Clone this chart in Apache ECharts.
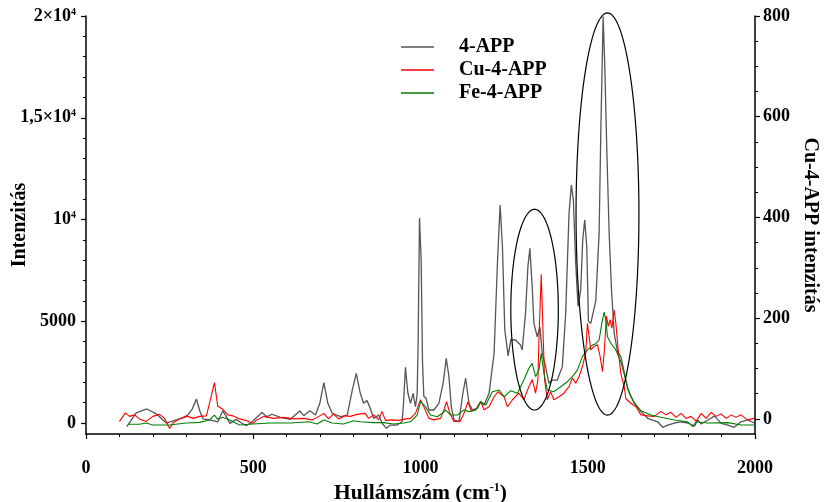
<!DOCTYPE html>
<html><head><meta charset="utf-8">
<script src="https://cdn.jsdelivr.net/npm/echarts@6/dist/echarts.min.js"></script>
<style>html,body{margin:0;padding:0;background:#fff}#c{width:827px;height:502px}</style>
</head><body><div id="c"></div>
<script>
// ---- data ----
const seriesNames = ['4-APP', 'Cu-4-APP', 'Fe-4-APP'];

const app4X = [122,150,182,210,240,270,300,318,330,340,350,370,394,409,420,430,449,465,479,495,526,541,556,581,611,639,651,669,686,699,711,723,736,761,781,796,808,820,830,840,848,860,875,885,898,910,930,945,949,955,962,970,978,985,990,993,997,1002,1006,1010,1017,1025,1040,1055,1068,1077,1085,1092,1100,1115,1125,1135,1145,1155,1170,1180,1190,1205,1220,1230,1238,1245,1252,1262,1270,1284,1299,1304,1314,1321,1327,1334,1339,1349,1357,1364,1374,1384,1394,1409,1424,1434,1444,1451,1457,1464,1471,1479,1485,1491,1497,1502,1509,1524,1534,1539,1546,1551,1557,1564,1571,1579,1589,1599,1609,1619,1639,1659,1679,1709,1724,1739,1759,1779,1799,1819,1829,1839,1859,1879,1899,1919,1938,1958,1978,1998];
const app4Y = [-180,500,690,450,0,150,300,700,1180,600,200,150,60,600,300,-20,180,0,-130,40,520,310,430,280,180,590,360,600,390,970,1980,970,480,310,390,1620,2440,1460,970,1100,800,230,390,0,-260,-100,-100,60,900,2740,1500,970,1460,800,1400,4000,10070,8000,3000,1300,1210,640,640,970,2000,3180,2280,800,150,60,1290,2200,970,640,720,1050,880,1460,3430,7850,10710,8660,4570,3300,4100,4080,3830,3590,5390,7680,8580,6700,4900,4240,4730,3430,2770,1950,2110,2110,2770,5390,10300,11700,10960,7850,5730,6540,9000,9980,8660,5000,4900,6000,9330,14250,19970,17500,13400,9320,6540,4400,3500,3260,2500,1700,970,560,230,60,-210,-100,0,60,0,-150,150,-50,150,340,-20,-100,-210,60,150,0];

const cuX = [100,118,130,145,160,180,200,220,235,250,262,280,300,320,340,360,374,384,394,409,424,439,459,479,499,511,531,561,591,621,651,676,691,711,725,740,755,775,790,805,820,835,845,860,875,885,895,915,935,955,970,985,1000,1010,1025,1040,1060,1070,1078,1088,1100,1118,1130,1142,1152,1165,1180,1190,1205,1220,1232,1242,1250,1260,1275,1294,1309,1324,1334,1344,1351,1355,1361,1366,1371,1379,1389,1399,1414,1429,1444,1454,1464,1474,1484,1494,1499,1504,1509,1519,1529,1537,1544,1549,1556,1561,1567,1572,1579,1584,1591,1599,1609,1614,1629,1644,1659,1679,1699,1719,1734,1749,1764,1779,1794,1809,1824,1839,1854,1869,1884,1899,1914,1929,1943,1958,1978,1998];
const cuY = [-5,12,5,8,0,-5,5,9,1,-19,-7,0,6,1,5,6,44,72,25,19,8,6,0,-3,-9,-2,5,1,3,0,1,-2,3,11,0,10,0,6,5,8,10,11,1,8,-2,15,-3,-2,-3,0,1,11,38,24,1,-2,1,18,34,11,-5,-5,11,34,15,18,34,18,24,44,54,48,44,24,38,51,38,64,78,51,78,177,287,177,78,38,54,38,44,51,64,81,71,84,104,131,190,164,137,144,147,124,94,131,204,184,197,180,216,190,137,90,64,40,31,24,8,6,5,15,8,13,3,11,1,5,-5,11,1,13,5,10,1,8,3,8,-2,1];

const feX = [125,160,180,200,250,300,340,369,384,394,409,429,459,499,551,611,666,691,711,736,770,800,820,860,890,920,950,970,990,1000,1015,1030,1050,1065,1075,1090,1110,1130,1145,1165,1180,1195,1215,1235,1250,1270,1290,1309,1324,1334,1344,1354,1361,1369,1379,1399,1419,1439,1454,1469,1484,1499,1514,1524,1534,1542,1549,1554,1559,1569,1584,1599,1611,1624,1639,1659,1689,1719,1759,1799,1814,1824,1859,1919,1958,1998];
const feY = [-60,-60,0,-100,-100,0,30,150,390,180,280,150,-100,-50,0,0,60,-50,150,0,-50,110,60,20,20,-50,0,60,390,1050,800,390,310,480,640,390,390,640,560,640,1050,880,1540,1620,1290,1590,1460,2110,2690,2930,2280,2600,3430,2440,1620,1540,1780,2030,2280,2600,3260,3590,3830,3900,4080,4900,5450,5060,4240,3920,3590,3000,2280,1460,1000,600,390,280,150,60,-180,60,0,20,-100,-100];

// annotation ellipses: [centre x, centre y (left axis), half-width x, half-height y]
const ellipses = [[1341, 5570, 71, 4930], [1559, 10270, 94, 9880]];

// axis ticks
const xMajor = [0, 500, 1000, 1500, 2000];
const leftTickValues = [0, 5000, 10000, 15000, 20000];
const leftTickLabels = ['0', '5000', '{b|10}{s|4}', '{b|1,5×10}{s|4}', '{b|2×10}{s|4}'];
const leftMinor = [1000,2000,3000,4000,6000,7000,8000,9000,11000,12000,13000,14000,16000,17000,18000,19000];
const rightTickValues = [0, 200, 400, 600, 800];
const rightMinor = [50,100,150,250,300,350,450,500,550,650,700,750];

// ---- chart ----
const FONT = 'Liberation Serif';
const pairs = (xs, ys) => xs.map((x, i) => [x, ys[i]]);
const chart = echarts.init(document.getElementById('c'));
const axisLineStyle = { color: '#000', width: 1.5 };
const labelStyle = { fontFamily: FONT, fontWeight: 'bold', fontSize: 18, color: '#000' };
const nameStyle = { fontFamily: FONT, fontWeight: 'bold', fontSize: 20, color: '#000' };

chart.setOption({
  animation: false,
  backgroundColor: '#fff',
  grid: { left: 86, right: 72, top: 16, bottom: 68, containLabel: false, outerBoundsMode: 'none' },
  legend: {
    orient: 'vertical', left: 401, top: 37, padding: 0, itemWidth: 33, itemHeight: 1.6, itemGap: 3,
    icon: 'rect',
    data: seriesNames,
    textStyle: { fontFamily: FONT, fontWeight: 'bold', fontSize: 20, color: '#000', padding: [0, 0, 0, 20] }
  },
  xAxis: [{
    type: 'value', min: 0, max: 2000, interval: 500,
    name: '{a|Hullámszám (cm}{s|-1}{a|)}', nameLocation: 'middle', nameGap: 48, nameMoveOverlap: false,
    nameTextStyle: { rich: {
      a: { fontFamily: FONT, fontWeight: 'bold', fontSize: 21.5, color: '#000' },
      s: { fontFamily: FONT, fontWeight: 'bold', fontSize: 12, color: '#000', verticalAlign: 'top' } } },
    axisLine: { onZero: false, lineStyle: axisLineStyle },
    axisTick: { show: true, length: 5, lineStyle: { color: '#000', width: 1.2 } },
    minorTick: { show: true, splitNumber: 5, length: 3, lineStyle: { color: '#000', width: 1 } },
    splitLine: { show: false }, minorSplitLine: { show: false },
    axisLabel: Object.assign({ margin: 25, customValues: xMajor, formatter: v => String(v) }, labelStyle)
  }],
  yAxis: [{
    type: 'value', min: -540, max: 20000, position: 'left',
    name: 'Intenzitás', nameLocation: 'middle', nameGap: 56, nameRotate: 90, nameMoveOverlap: false,
    nameTextStyle: nameStyle,
    axisLine: { show: true, onZero: false, lineStyle: axisLineStyle },
    axisTick: { show: true, length: 5, customValues: leftTickValues, lineStyle: { color: '#000', width: 1.2 } },
    splitLine: { show: false },
    axisLabel: Object.assign({
      margin: 10, customValues: leftTickValues,
      formatter: v => leftTickLabels[leftTickValues.indexOf(v)],
      rich: {
        b: { fontFamily: FONT, fontWeight: 'bold', fontSize: 18, color: '#000' },
        s: { fontFamily: FONT, fontWeight: 'bold', fontSize: 10, color: '#000', verticalAlign: 'top' }
      }
    }, labelStyle)
  }, {
    type: 'value', min: -30, max: 800, position: 'right',
    name: 'Cu-4-APP intenzitás', nameLocation: 'middle', nameGap: 45, nameRotate: -90, nameMoveOverlap: false,
    nameTextStyle: nameStyle,
    axisLine: { show: true, onZero: false, lineStyle: axisLineStyle },
    axisTick: { show: true, length: 5, customValues: rightTickValues, lineStyle: { color: '#000', width: 1.2 } },
    splitLine: { show: false },
    axisLabel: Object.assign({ margin: 8, customValues: rightTickValues }, labelStyle)
  }, {
    type: 'value', min: -540, max: 20000, position: 'left',
    axisLine: { show: false }, axisLabel: { show: false }, splitLine: { show: false },
    axisTick: { show: true, length: 3, customValues: leftMinor, lineStyle: { color: '#000', width: 1 } }
  }, {
    type: 'value', min: -30, max: 800, position: 'right',
    axisLine: { show: false }, axisLabel: { show: false }, splitLine: { show: false },
    axisTick: { show: true, length: 3, customValues: rightMinor, lineStyle: { color: '#000', width: 1 } }
  }],
  series: [{
    name: seriesNames[0], type: 'line', yAxisIndex: 0, symbol: 'none', z: 3,
    lineStyle: { color: '#555555', width: 1.3 }, itemStyle: { color: '#555555' },
    data: pairs(app4X, app4Y)
  }, {
    name: seriesNames[1], type: 'line', yAxisIndex: 1, symbol: 'none', z: 4,
    lineStyle: { color: '#ff0000', width: 1.1 }, itemStyle: { color: '#ff0000' },
    data: pairs(cuX, cuY)
  }, {
    name: seriesNames[2], type: 'line', yAxisIndex: 0, symbol: 'none', z: 5,
    lineStyle: { color: '#008000', width: 1.1 }, itemStyle: { color: '#008000' },
    data: pairs(feX, feY)
  }, {
    name: 'ellipses', type: 'custom', yAxisIndex: 0, clip: false, z: 6, silent: true,
    encode: { x: 0, y: 1 },
    data: ellipses,
    renderItem: (params, api) => {
      const c = api.coord([api.value(0), api.value(1)]);
      const e = api.coord([api.value(0) + api.value(2), api.value(1) + api.value(3)]);
      const rx = Math.abs(e[0] - c[0]), ry = Math.abs(c[1] - e[1]);
      const pts = [];
      for (let i = 0; i < 160; i++) {
        const t = i / 160 * Math.PI * 2;
        pts.push([c[0] + rx * Math.cos(t), c[1] + ry * Math.sin(t)]);
      }
      return { type: 'polygon', shape: { points: pts }, style: { fill: 'none', stroke: '#000', lineWidth: 1.2 } };
    }
  }]
});
</script></body></html>
